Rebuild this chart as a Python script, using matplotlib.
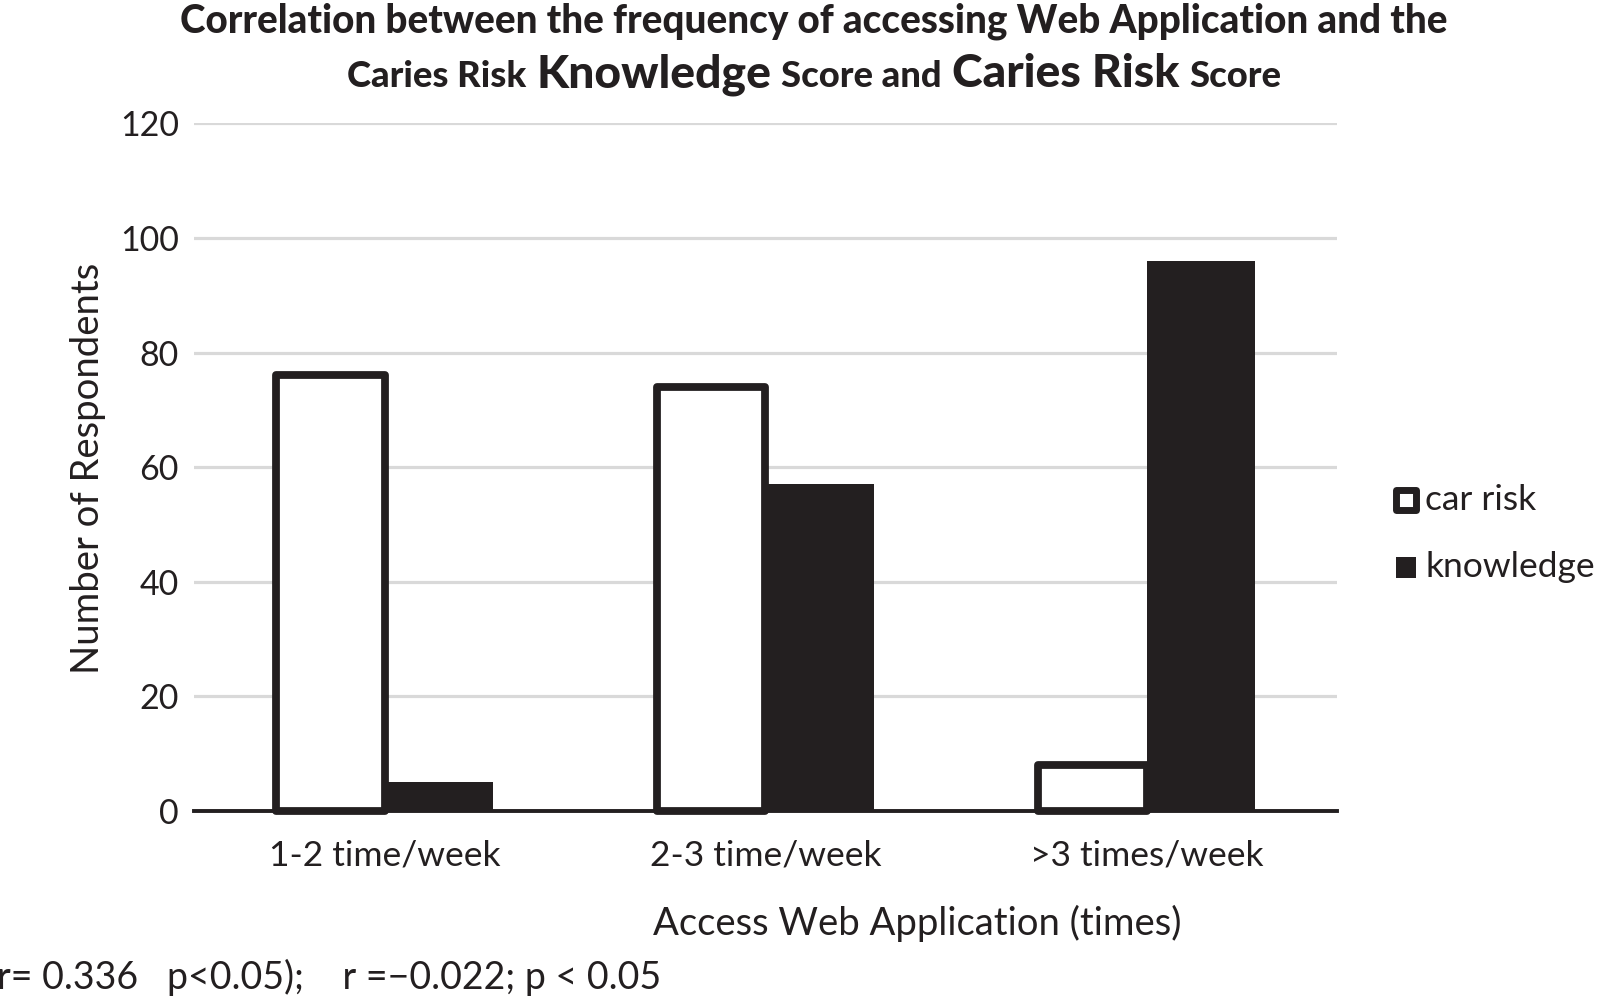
import matplotlib
matplotlib.use("Agg")
import matplotlib.pyplot as plt
from matplotlib import font_manager
from matplotlib.patches import Rectangle
import numpy as np

# ---- data ----
categories = ["1-2 time/week", "2-3 time/week", ">3 times/week"]
car_risk = [76, 74, 8]
knowledge = [5, 57, 96]
y_ticks = [0, 20, 40, 60, 80, 100, 120]
series_names = ["car risk", "knowledge"]
title_line1 = [("Correlation between the frequency of accessing Web Application and the", 1.0)]
title_line2 = [("Caries Risk", 1.0), ("Knowledge", 1.27), ("Score and", 1.0),
               ("Caries Risk", 1.27), ("Score", 1.0)]
stats_text = "r= 0.336   p<0.05);    r =\u22120.022; p < 0.05"
xlabel = "Access Web Application (times)"
ylabel = "Number of Respondents"

W, H = 1600, 997
DARK = "#231f20"

avail = {f.name for f in font_manager.fontManager.ttflist}
BODY = "Lato" if "Lato" in avail else "DejaVu Sans"
TITLE = "Liberation Sans Narrow" if "Liberation Sans Narrow" in avail else BODY

fig = plt.figure(figsize=(W / 100, H / 100), dpi=100)
fig.patch.set_facecolor("white")

def fx(x):
    return x / W

def fy(y):
    return 1 - y / H

ax_l, ax_r, ax_t, ax_b = 194, 1337, 123.5, 810.7
ax = fig.add_axes([fx(ax_l), fy(ax_b), fx(ax_r) - fx(ax_l), fy(ax_t) - fy(ax_b)])

x = np.arange(len(categories))
bw = 0.285
ax.bar(x + bw / 2, knowledge, width=bw, color=DARK, edgecolor="none", zorder=3)
ax.bar(x - bw / 2, car_risk, width=bw, color="white", edgecolor=DARK,
       linewidth=5.6, joinstyle="round", zorder=4, clip_on=False)

ax.set_xlim(-0.5, len(categories) - 0.5)
ax.set_ylim(0, 120)
ax.set_yticks(y_ticks)
ax.set_xticks(x)
ax.set_xticklabels(categories)
for s in ax.spines.values():
    s.set_visible(False)
ax.yaxis.grid(True, color="#d9d9d9", linewidth=2.3, zorder=0)
ax.set_axisbelow(True)
ax.axhline(0, color=DARK, linewidth=2.8, zorder=2, clip_on=False)
ax.tick_params(axis="both", length=0, colors=DARK)
ax.tick_params(axis="x", pad=21, labelsize=25.5)
ax.tick_params(axis="y", pad=11, labelsize=24.5)
for lab in ax.get_xticklabels() + ax.get_yticklabels():
    lab.set_family(BODY)

fig.text(fx(917), fy(923), xlabel, ha="center", va="center", fontsize=27.5,
         family=BODY, color=DARK)
fig.text(fx(88), fy(468), ylabel, ha="center", va="center", rotation=90,
         fontsize=27.5, family=BODY, color=DARK)
fig.text(fx(-3), fy(977), stats_text, ha="left", va="center", fontsize=27,
         family=BODY, color=DARK)

# legend
fig.patches.append(Rectangle((fx(1396), fy(510)), fx(20), 20 / H, transform=fig.transFigure,
                             facecolor="white", edgecolor=DARK, linewidth=5, joinstyle="round"))
fig.patches.append(Rectangle((fx(1396), fy(578)), fx(20), 21 / H, transform=fig.transFigure,
                             facecolor=DARK, edgecolor="none"))
fig.text(fx(1425), fy(500), series_names[0], ha="left", va="center", fontsize=25.5,
         family=BODY, color=DARK)
fig.text(fx(1425), fy(567), series_names[1], ha="left", va="center", fontsize=25.5,
         family=BODY, color=DARK)

# title
fig.canvas.draw()
r = fig.canvas.get_renderer()

def rich_line(pieces, base, cx, baseline_px, target_width=None):
    texts = [fig.text(0, 0, s, fontsize=base * k, fontweight="black", family=TITLE,
                      va="baseline", ha="left", color=DARK) for s, k in pieces]
    def measure():
        ws = [t.get_window_extent(r).width for t in texts]
        gaps = [0.27 * base * 100 / 72 * 1.0] * (len(texts) - 1)
        return ws, gaps
    ws, gaps = measure()
    if target_width:
        sc = target_width / (sum(ws) + sum(gaps))
        base *= sc
        for t, (s, k) in zip(texts, pieces):
            t.set_fontsize(base * k)
        ws, gaps = measure()
    total = sum(ws) + sum(gaps)
    xx = cx - total / 2
    for i, t in enumerate(texts):
        t.set_position((fx(xx), fy(baseline_px)))
        xx += ws[i] + (gaps[i] if i < len(gaps) else 0)
    return base

b = rich_line(title_line1, 22, 814, 32.5, target_width=1264)
rich_line(title_line2, b, 814, 87, target_width=934)

fig.savefig("out.png", dpi=100, facecolor="white")
